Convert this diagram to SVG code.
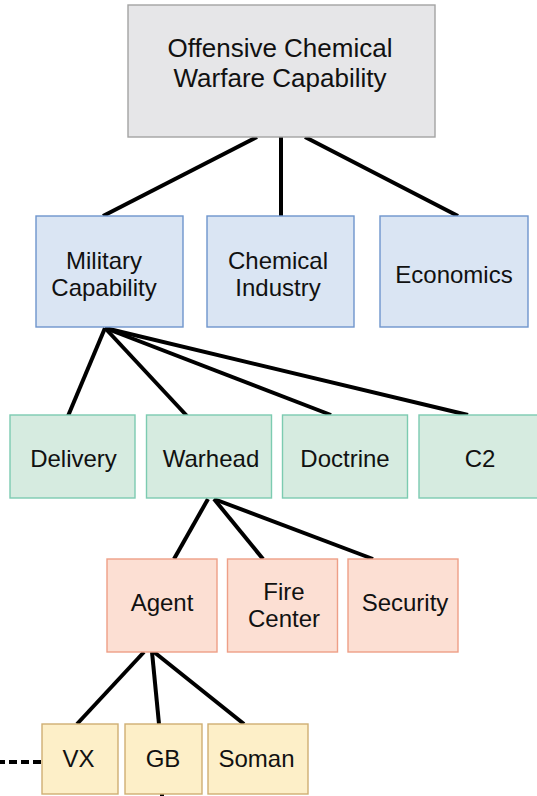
<svg xmlns="http://www.w3.org/2000/svg" width="537" height="796" viewBox="0 0 537 796">
  <style>
    text { font-family: "Liberation Sans", Arial, sans-serif; fill: #111; text-anchor: middle; }
    .t0 { font-size: 26px; }
    .t1 { font-size: 24px; }
    .box { stroke-width: 1.4; }
    .gray { fill: #e6e6e8; stroke: #a3a3a3; }
    .blue { fill: #dae5f3; stroke: #6e95cc; }
    .green { fill: #d6ebe0; stroke: #7ccbb1; }
    .red { fill: #fcdfd3; stroke: #ee9f87; }
    .yellow { fill: #fdefc8; stroke: #cfae73; }
    .link { stroke: #000; stroke-width: 4; stroke-linecap: butt; fill: none; }
  </style>

  <!-- connectors -->
  <g id="connectors">
    <line class="link" x1="257" y1="137" x2="103" y2="216"/>
    <line class="link" x1="281" y1="137" x2="281" y2="216"/>
    <line class="link" x1="305" y1="137" x2="458" y2="216"/>

    <line class="link" x1="105" y1="328" x2="68" y2="416"/>
    <line class="link" x1="105" y1="328" x2="187" y2="416"/>
    <line class="link" x1="105" y1="328" x2="331" y2="415"/>
    <line class="link" x1="105" y1="328" x2="468" y2="415"/>

    <line class="link" x1="208" y1="499" x2="174" y2="559"/>
    <line class="link" x1="214" y1="499" x2="263" y2="559"/>
    <line class="link" x1="214" y1="499" x2="373" y2="559"/>

    <line class="link" x1="144" y1="652" x2="77" y2="724"/>
    <line class="link" x1="152" y1="652" x2="159" y2="724"/>
    <line class="link" x1="154" y1="652" x2="244" y2="724"/>

    <line class="link" x1="162" y1="794" x2="162" y2="800" stroke-width="3"/>
    <line class="link" x1="41" y1="762" x2="0" y2="762" stroke-width="3.5" stroke-dasharray="8 4"/>
  </g>

  <!-- level 0 -->
  <g id="offensive-cw">
    <rect class="box gray" x="128" y="5" width="307" height="132"/>
    <text class="t0" x="280" y="57">Offensive Chemical</text>
    <text class="t0" x="280" y="87">Warfare Capability</text>
  </g>

  <!-- level 1 -->
  <g id="military-capability">
    <rect class="box blue" x="36" y="216" width="147" height="111"/>
    <text class="t1" x="104" y="269">Military</text>
    <text class="t1" x="104" y="296">Capability</text>
  </g>
  <g id="chemical-industry">
    <rect class="box blue" x="207" y="216" width="147" height="111"/>
    <text class="t1" x="278" y="269">Chemical</text>
    <text class="t1" x="278" y="296">Industry</text>
  </g>
  <g id="economics">
    <rect class="box blue" x="380" y="216" width="148" height="111"/>
    <text class="t1" x="454" y="283">Economics</text>
  </g>

  <!-- level 2 -->
  <g id="delivery">
    <rect class="box green" x="10" y="415" width="125" height="83"/>
    <text class="t1" x="73.5" y="467">Delivery</text>
  </g>
  <g id="warhead">
    <rect class="box green" x="146.5" y="415" width="125" height="83"/>
    <text class="t1" x="211" y="467">Warhead</text>
  </g>
  <g id="doctrine">
    <rect class="box green" x="282.5" y="415" width="125" height="83"/>
    <text class="t1" x="345" y="467">Doctrine</text>
  </g>
  <g id="c2">
    <rect class="box green" x="419" y="415" width="125" height="83"/>
    <text class="t1" x="480" y="467">C2</text>
  </g>

  <!-- level 3 -->
  <g id="agent">
    <rect class="box red" x="107" y="559" width="110" height="93"/>
    <text class="t1" x="162" y="611">Agent</text>
  </g>
  <g id="fire-center">
    <rect class="box red" x="227.5" y="559" width="110" height="93"/>
    <text class="t1" x="284" y="600">Fire</text>
    <text class="t1" x="284" y="627">Center</text>
  </g>
  <g id="security">
    <rect class="box red" x="348" y="559" width="110" height="93"/>
    <text class="t1" x="405" y="611">Security</text>
  </g>

  <!-- level 4 -->
  <g id="vx">
    <rect class="box yellow" x="42" y="724" width="76" height="70"/>
    <text class="t1" x="78.5" y="767">VX</text>
  </g>
  <g id="gb">
    <rect class="box yellow" x="125" y="724" width="77" height="70"/>
    <text class="t1" x="163" y="767">GB</text>
  </g>
  <g id="soman">
    <rect class="box yellow" x="208" y="724" width="100" height="70"/>
    <text class="t1" x="256.5" y="767">Soman</text>
  </g>
</svg>
